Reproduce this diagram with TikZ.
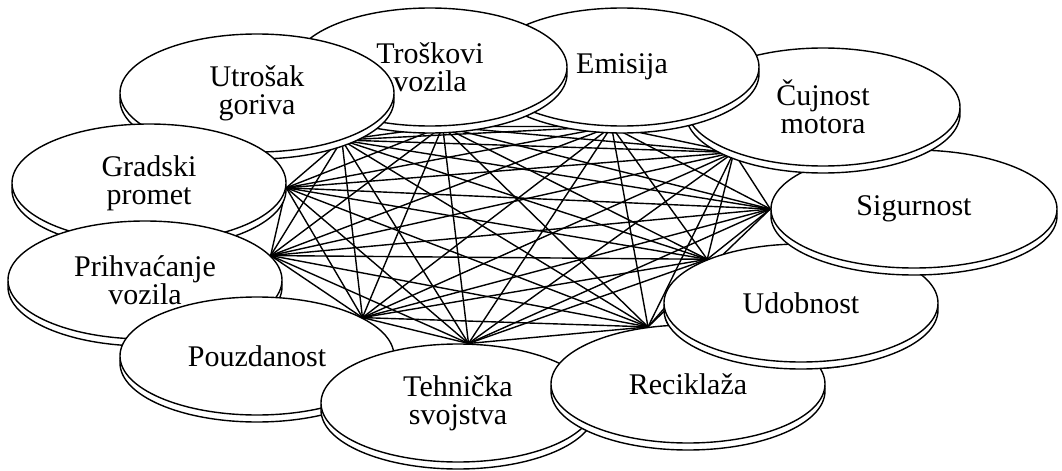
\documentclass[tikz,border=0pt]{standalone}
\usepackage{fontspec}
\setmainfont{Liberation Serif}
\usetikzlibrary{shapes.geometric,shadows,backgrounds}

\begin{document}
\begin{tikzpicture}[x=0.5pt, y=-0.5pt,
        disk/.style={ellipse, draw, fill=white, line width=0.7pt, inner sep=0pt,
            minimum width=137pt, minimum height=59pt, align=center,
            font=\fontsize{15}{14}\selectfont,
            copy shadow={shadow xshift=0pt, shadow yshift=-3.5pt, draw=black, fill=white, line width=0.7pt}},
        link/.style={line width=0.7pt}]
        \useasboundingbox (0,0) rectangle (1062,471);

        \node[disk] (udobnost) at (801,303) {Udobnost};
        \node[disk, minimum width=143pt] (sigurnost) at (914,209) {Sigurnost};
        \node[disk] (cujnost) at (823,107) {Čujnost\\ motora};
        \node[disk] (emisija) at (622,67) {Emisija};
        \node[disk] (troskovi) at (430,67) {Troškovi\\ vozila};
        \node[disk] (goriva) at (257,93) {Utrošak\\ goriva};
        \node[disk] (gradski) at (149,183) {Gradski\\ promet};
        \node[disk] (prihvacanje) at (145,280) {Prihvaćanje\\ vozila};
        \node[disk] (pouzdanost) at (257,356) {Pouzdanost};
        \node[disk] (tehnicka) at (458,403) {Tehnička\\ svojstva};
        \node[disk] (reciklaza) at (688,384) {Reciklaža};

        % Udobnost lies over Reciklaza
        \begin{scope}
            \clip (540,318) rectangle (840,392);
            \node[disk] (udobnostfront) at (udobnost) {};
        \end{scope}

        \def\ring{gradski/-2, goriva/-29, troskovi/-78, emisija/-100, cujnost/-153, sigurnost/180, udobnost/155, reciklaza/125, tehnicka/80, pouzdanost/20, prihvacanje/11}
        \begin{scope}[on background layer]
            \foreach \a/\p [count=\i] in \ring {
                \foreach \b/\q [count=\j] in \ring {
                    \ifnum\j>\i \draw[link] (\a.\p) -- (\b.\q); \fi
                }
            }
        \end{scope}
    \end{tikzpicture}
\end{document}
